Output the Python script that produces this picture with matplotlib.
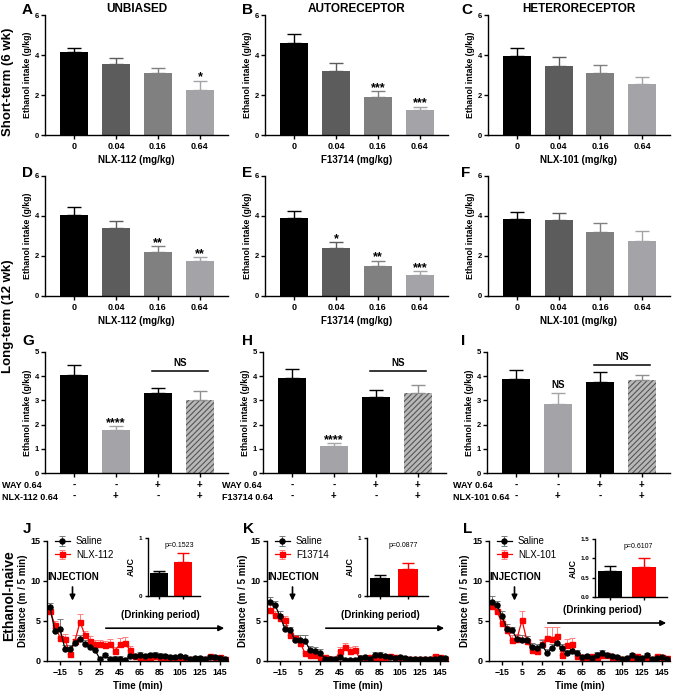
import numpy as np
import matplotlib
matplotlib.use('Agg')
import matplotlib.pyplot as plt

plt.rcParams['font.family'] = ['Liberation Sans', 'DejaVu Sans']
plt.rcParams['font.weight'] = 'bold'
plt.rcParams['axes.labelweight'] = 'bold'
plt.rcParams['axes.titleweight'] = 'bold'
plt.rcParams['hatch.linewidth'] = 0.8

W, H = 673, 693

# ---- dose-response data (mean, upper error) ----
doses = ['0', '0.04', '0.16', '0.64']
dose_colors = ['#000000', '#5c5c5c', '#808080', '#a4a4a8']

a_mean = [4.13, 3.55, 3.08, 2.25]
a_err = [0.24, 0.30, 0.29, 0.47]
a_sig = ['', '', '', '*']
b_mean = [4.58, 3.22, 1.88, 1.25]
b_err = [0.45, 0.40, 0.30, 0.17]
b_sig = ['', '', '***', '***']
c_mean = [3.95, 3.45, 3.08, 2.53]
c_err = [0.42, 0.43, 0.44, 0.39]
c_sig = ['', '', '', '']

d_mean = [4.05, 3.40, 2.20, 1.75]
d_err = [0.42, 0.33, 0.30, 0.20]
d_sig = ['', '', '**', '**']
e_mean = [3.92, 2.40, 1.48, 1.07]
e_err = [0.35, 0.28, 0.29, 0.18]
e_sig = ['', '*', '**', '***']
f_mean = [3.87, 3.78, 3.22, 2.75]
f_err = [0.35, 0.39, 0.41, 0.52]
f_sig = ['', '', '', '']

# ---- antagonist (WAY) data ----
way_signs = ['-\n-', '-\n+', '+\n-', '+\n+']
g_mean = [4.05, 1.78, 3.29, 3.00]
g_err = [0.41, 0.16, 0.21, 0.38]
g_sig = ['', '****', '', '']
h_mean = [3.93, 1.11, 3.14, 3.29]
h_err = [0.35, 0.14, 0.30, 0.35]
h_sig = ['', '****', '', '']
i_mean = [3.88, 2.84, 3.76, 3.86]
i_err = [0.36, 0.46, 0.41, 0.18]
i_sig = ['', 'NS', '', '']

# ---- locomotion time course ----
t = np.arange(-25, 155, 5)
j_sal = [6.7, 3.7, 4.0, 1.5, 1.5, 2.3, 2.8, 2.1, 1.7, 1.4, 0.2, 0.7, 0.2, 0.3, 0.3, 0.1, 0.6, 0.6,
         0.8, 0.6, 0.7, 0.7, 0.6, 0.6, 0.5, 0.5, 0.6, 0.5, 0.3, 0.4, 0.4, 0.2, 0.5, 0.5, 0.4, 0.2]
j_sal_e = [0.5, 0.4, 1.2, 0.5, 0.5, 0.5, 0.5, 0.5, 0.4, 0.4, 0.3, 0.3, 0.3, 0.3, 0.3, 0.2, 0.3, 0.3,
           0.3, 0.3, 0.3, 0.4, 0.4, 0.3, 0.3, 0.2, 0.2, 0.2, 0.2, 0.2, 0.2, 0.2, 0.2, 0.2, 0.2, 0.2]
j_drug = [6.2, 4.5, 2.9, 2.7, 0.9, 2.5, 4.9, 3.2, 2.5, 2.1, 2.1, 2.0, 2.1, 1.3, 2.1, 2.2, 1.4, 0.6,
          0.4, 0.5, 0.5, 0.6, 0.5, 0.4, 0.4, 0.2, 0.3, 0.3, 0.2, 0.3, 0.3, 0.3, 0.6, 0.2, 0.5, 0.3]
j_drug_e = [0.6, 0.5, 0.8, 0.7, 0.5, 0.7, 1.0, 0.6, 0.6, 0.5, 0.5, 0.5, 0.6, 0.5, 0.8, 0.8, 0.5, 0.3,
            0.2, 0.2, 0.2, 0.2, 0.2, 0.2, 0.2, 0.2, 0.2, 0.2, 0.2, 0.2, 0.2, 0.2, 0.2, 0.2, 0.2, 0.2]
k_sal = [7.4, 7.0, 5.6, 4.0, 3.9, 2.6, 2.6, 2.5, 1.4, 1.3, 1.0, 0.3, 0.3, 0.2, 0.5, 0.1, 0.1, 0.1,
         0.4, 0.5, 0.3, 0.7, 0.7, 0.6, 0.5, 0.4, 0.5, 0.4, 0.3, 0.2, 0.2, 0.2, 0.3, 0.3, 0.4, 0.4]
k_sal_e = [0.6, 0.5, 0.6, 0.5, 0.4, 0.6, 0.6, 0.8, 0.5, 0.5, 0.5, 0.3, 0.3, 0.3, 0.3, 0.2, 0.2, 0.2,
           0.3, 0.3, 0.3, 0.4, 0.4, 0.3, 0.3, 0.2, 0.2, 0.2, 0.2, 0.2, 0.2, 0.2, 0.2, 0.2, 0.2, 0.2]
k_drug = [6.4, 5.7, 5.4, 5.1, 3.2, 2.9, 2.3, 1.0, 0.7, 0.8, 0.5, 0.5, 0.3, 0.2, 1.2, 1.7, 1.3, 1.4,
          0.3, 0.4, 0.5, 0.4, 0.5, 0.5, 0.6, 0.5, 0.4, 0.3, 0.3, 0.2, 0.3, 0.2, 0.3, 0.6, 0.5, 0.2]
k_drug_e = [0.6, 0.5, 0.5, 0.5, 0.4, 0.4, 0.4, 0.3, 0.3, 0.3, 0.3, 0.2, 0.2, 0.2, 0.5, 0.6, 0.5, 0.5,
            0.2, 0.2, 0.2, 0.2, 0.2, 0.2, 0.2, 0.2, 0.2, 0.2, 0.2, 0.2, 0.2, 0.2, 0.2, 0.2, 0.2, 0.2]
l_sal = [7.4, 7.0, 5.6, 4.0, 3.9, 2.7, 2.6, 2.6, 1.8, 1.6, 2.0, 1.0, 1.6, 2.3, 1.6, 1.0, 1.3, 1.0,
         0.5, 0.6, 0.4, 0.8, 1.0, 0.7, 0.6, 0.5, 0.3, 0.4, 0.7, 0.4, 0.4, 0.7, 0.3, 0.4, 0.5, 0.3]
l_sal_e = [0.7, 0.5, 0.6, 0.6, 0.4, 0.5, 0.6, 0.5, 0.5, 0.5, 0.6, 0.5, 0.5, 0.5, 0.5, 0.4, 0.4, 0.4,
           0.3, 0.3, 0.3, 0.3, 0.4, 0.3, 0.3, 0.3, 0.2, 0.2, 0.3, 0.2, 0.2, 0.3, 0.2, 0.2, 0.2, 0.2]
l_drug = [6.9, 6.2, 4.7, 3.9, 2.6, 2.8, 5.1, 2.5, 1.4, 1.2, 2.1, 2.9, 2.8, 3.1, 0.7, 2.0, 2.1, 0.6,
          0.5, 0.5, 0.6, 0.5, 0.7, 0.7, 0.5, 0.4, 0.3, 0.3, 0.5, 0.6, 0.3, 0.3, 0.3, 0.6, 0.5, 0.4]
l_drug_e = [0.5, 0.5, 0.5, 0.5, 0.6, 0.6, 1.2, 0.6, 0.5, 0.5, 0.6, 1.4, 1.5, 1.2, 0.6, 0.7, 0.8, 0.4,
            0.2, 0.2, 0.2, 0.2, 0.2, 0.2, 0.2, 0.2, 0.2, 0.2, 0.2, 0.2, 0.2, 0.2, 0.2, 0.2, 0.2, 0.2]

# AUC insets
j_auc, j_auc_e, j_p = [0.40, 0.59], [0.03, 0.15], 'p=0.1523'
k_auc, k_auc_e, k_p = [0.31, 0.46], [0.05, 0.11], 'p=0.0877'
l_auc, l_auc_e, l_p = [0.67, 0.78], [0.13, 0.22], 'p=0.6107'

time_ticks = [-15, 5, 25, 45, 65, 85, 105, 125, 145]


def px_axes(fig, left, top, right, bottom):
    return fig.add_axes([left / W, 1 - bottom / H, (right - left) / W, (bottom - top) / H])


def px_text(fig, x, y, s, **kw):
    fig.text(x / W, 1 - y / H, s, **kw)


def prism(ax, ytick_size=5.5, xtick_size=6.5):
    for s in ['top', 'right']:
        ax.spines[s].set_visible(False)
    for s in ['left', 'bottom']:
        ax.spines[s].set_linewidth(1.0)
    ax.tick_params(axis='y', direction='out', length=3, width=1, labelsize=ytick_size, pad=1.5)
    ax.tick_params(axis='x', direction='out', length=3, width=1, labelsize=xtick_size, pad=2)


def bar_panel(ax, mean, err, sig, colors, hatch_last=False):
    x = np.arange(len(mean))
    bars = ax.bar(x, mean, width=0.67, color=colors, linewidth=0)
    if hatch_last:
        bars[-1].set_facecolor('#b8b8b8')
        bars[-1].set_edgecolor('#555555')
        bars[-1].set_hatch('//////')
    ecols = [c if c != '#b8b8b8' else '#909090' for c in colors]
    for xi, m, e, c in zip(x, mean, err, ecols):
        ax.errorbar(xi, m, yerr=[[0], [e]], color=c, capsize=5, elinewidth=1, capthick=1)
    for xi, m, e, s in zip(x, mean, err, sig):
        if s == 'NS':
            ax.text(xi, m + e + 0.12, s, ha='center', va='bottom', fontsize=7)
        elif s:
            ax.text(xi, m + e, s, ha='center', va='baseline', fontsize=9)
    ax.set_xlim(-0.69, 3.67)
    ax.set_xticks(x)
    prism(ax)


fig = plt.figure(figsize=(W / 100, H / 100), dpi=100)

# ---- rows 1 and 2 ----
row_rects = [(15, 135), (176, 296)]
col_lr = [(45, 228), (265, 448), (488, 670)]
panels = [
    [(a_mean, a_err, a_sig, 'NLX-112 (mg/kg)'), (b_mean, b_err, b_sig, 'F13714 (mg/kg)'),
     (c_mean, c_err, c_sig, 'NLX-101 (mg/kg)')],
    [(d_mean, d_err, d_sig, 'NLX-112 (mg/kg)'), (e_mean, e_err, e_sig, 'F13714 (mg/kg)'),
     (f_mean, f_err, f_sig, 'NLX-101 (mg/kg)')],
]
for r, (top, bottom) in enumerate(row_rects):
    for c, (left, right) in enumerate(col_lr):
        mean, err, sig, xl = panels[r][c]
        ax = px_axes(fig, left, top, right, bottom)
        bar_panel(ax, mean, err, sig, dose_colors)
        ax.set_ylim(0, 6)
        ax.set_yticks([0, 2, 4, 6])
        ax.set_xticklabels(doses)
        ax.set_xlabel(xl, fontsize=7, labelpad=3)
        ax.set_ylabel('Ethanol intake (g/kg)', fontsize=6.3, labelpad=2)
        if r == 0:
            ax.set_title(['UNBIASED', 'AUTORECEPTOR', 'HETERORECEPTOR'][c],
                         fontsize=8.5, pad=2.5)

# ---- row 3 ----
way_colors = ['#000000', '#a4a4a8', '#000000', '#b8b8b8']
row3 = [(g_mean, g_err, g_sig, 'NLX-112 0.64', 45, 228, 2),
        (h_mean, h_err, h_sig, 'F13714 0.64', 263, 446, 222),
        (i_mean, i_err, i_sig, 'NLX-101 0.64', 487, 670, 453)]
for idx, (mean, err, sig, drug, left, right, lab_x) in enumerate(row3):
    ax = px_axes(fig, left, 352, right, 473)
    bar_panel(ax, mean, err, sig, way_colors, hatch_last=True)
    ax.set_ylim(0, 5)
    ax.set_yticks([0, 1, 2, 3, 4, 5])
    ax.set_xticklabels(way_signs, fontsize=7, linespacing=1.15)
    ax.set_ylabel('Ethanol intake (g/kg)', fontsize=6.3, labelpad=2)
    ns_y = 4.21 if idx < 2 else 4.48
    ax.plot([1.85, 3.2], [ns_y, ns_y], color='black', lw=1.1)
    ax.text(2.52, ns_y + 0.12, 'NS', ha='center', va='bottom', fontsize=7)
    px_text(fig, lab_x, 486, 'WAY 0.64', fontsize=6.5, va='center')
    px_text(fig, lab_x, 497, drug, fontsize=6.5, va='center')

# ---- row 4 ----
row4 = [(j_sal, j_sal_e, j_drug, j_drug_e, 'NLX-112', 47, 228, (148, 538, 200, 596), j_auc, j_auc_e, j_p, 1.0),
        (k_sal, k_sal_e, k_drug, k_drug_e, 'F13714', 267, 448, (367, 538, 428, 596), k_auc, k_auc_e, k_p, 1.0),
        (l_sal, l_sal_e, l_drug, l_drug_e, 'NLX-101', 489, 670, (595, 539, 667, 597), l_auc, l_auc_e, l_p, 1.5)]
for sal, sal_e, drug, drug_e, name, left, right, irect, auc, auc_e, p, itop in row4:
    ax = px_axes(fig, left, 541, right, 661)
    ax.errorbar(t, drug, yerr=[np.zeros(len(t)), drug_e], color='red', ecolor='#ff8080',
                marker='s', ms=3.6, lw=0.9, elinewidth=0.7, capsize=2, capthick=0.7, label=name)
    ax.errorbar(t, sal, yerr=[np.zeros(len(t)), sal_e], color='black', ecolor='#777777',
                marker='o', ms=3.6, lw=0.9, elinewidth=0.7, capsize=2, capthick=0.7, label='Saline')
    ax.set_xlim(-28, 153)
    ax.set_ylim(0, 15)
    ax.set_yticks([0, 5, 10, 15])
    ax.set_xticks(time_ticks)
    prism(ax, ytick_size=6.5, xtick_size=6.3)
    ax.set_xlabel('Time (min)', fontsize=7, labelpad=3)
    ax.set_ylabel('Distance (m / 5 min)', fontsize=7, labelpad=2)
    h, lab = ax.get_legend_handles_labels()
    ax.legend(h[::-1], lab[::-1], loc='upper left', bbox_to_anchor=(0.02, 1.07), frameon=False,
              prop={'weight': 'normal', 'size': 7}, handlelength=1.6, handletextpad=0.6,
              labelspacing=0.35, borderaxespad=0)
    ax.text(-2, 10.5, 'INJECTION', ha='center', va='center', fontsize=7)
    ax.annotate('', xy=(-2.5, 7.2), xytext=(-2.5, 9.6),
                arrowprops=dict(arrowstyle='-|>', lw=1.2, color='black', mutation_scale=8))
    dp_y = 5.1 if itop == 1.0 else 5.75
    ax.text(85, dp_y, '(Drinking period)', ha='center', va='bottom', fontsize=7)
    ax.annotate('', xy=(152, dp_y - 1.0), xytext=(28, dp_y - 1.0),
                arrowprops=dict(arrowstyle='-|>', lw=1.2, color='black', mutation_scale=8))

    ins = px_axes(fig, *irect)
    ins.bar([0, 1], auc, width=0.72, color=['black', 'red'])
    for xi, m, e, c in zip([0, 1], auc, auc_e, ['black', 'red']):
        ins.errorbar(xi, m, yerr=[[0], [e]], color=c, capsize=4, elinewidth=1, capthick=1)
    ins.set_xlim(-0.45, 1.7)
    ins.set_ylim(0, itop)
    if itop == 1.0:
        ins.set_yticks([0, 1])
    else:
        ins.set_yticks([0, 0.5, 1.0, 1.5])
        ins.set_yticklabels(['0.0', '0.5', '1.0', '1.5'])
    ins.set_xticks([0, 1])
    ins.set_xticklabels([])
    prism(ins, ytick_size=4.5)
    ins.tick_params(length=2.5)
    ins.set_ylabel('AUC', fontsize=6.3, labelpad=2)
    ins.text(0.6, 0.87, p, transform=ins.transAxes, ha='center', va='center',
             fontsize=5, fontweight='normal')

# ---- panel letters ----
letters = [('A', 22, 14), ('B', 242, 14), ('C', 461, 14),
           ('D', 22, 177), ('E', 242, 177), ('F', 461, 177),
           ('G', 22, 345), ('H', 242, 345), ('I', 461, 345),
           ('J', 23, 533), ('K', 243, 533), ('L', 463, 533)]
for s, x, y in letters:
    px_text(fig, x, y, s, fontsize=11, va='baseline')

# ---- row labels ----
px_text(fig, 8, 82, 'Short-term (6 wk)', fontsize=9.5, rotation=90, ha='center', va='center')
px_text(fig, 8, 316, 'Long-term (12 wk)', fontsize=9.5, rotation=90, ha='center', va='center')
px_text(fig, 9, 596, 'Ethanol-naive', fontsize=10, rotation=90, ha='center', va='center')

fig.savefig('out.png', dpi=100)
